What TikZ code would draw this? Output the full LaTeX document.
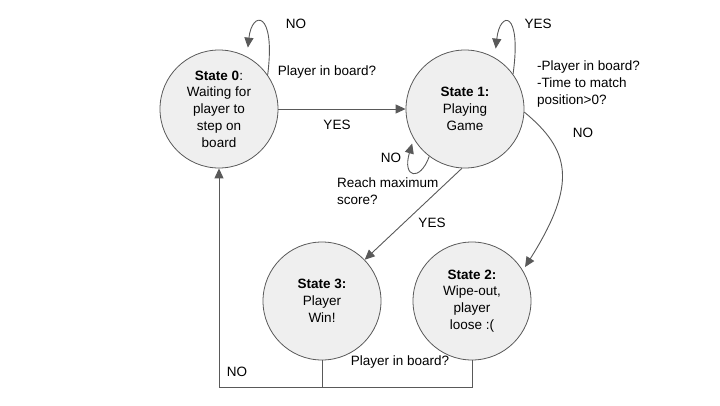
\documentclass[tikz,border=0pt]{standalone}
\usepackage{fontspec}
\setmainfont{Liberation Sans}
\usetikzlibrary{arrows.meta,calc}
\definecolor{linegray}{HTML}{595959}
\definecolor{fillgray}{HTML}{EFEFEF}
\begin{document}
\begin{tikzpicture}[x=1pt,y=-1pt,
  state/.style={circle,draw=linegray,fill=fillgray,line width=0.8pt,minimum size=118pt,inner sep=0pt,align=center,font=\fontsize{13.5}{16.8}\selectfont},
  conn/.style={draw=linegray,line width=0.9pt},
  arr/.style={conn,-{Triangle[length=10pt,width=9pt]}},
  lbl/.style={font=\fontsize{13.5}{16.8}\selectfont,inner sep=0pt,text=black}]
\useasboundingbox (0,0) rectangle (720,405);
\node[state] (s0) at (219,109) {\textbf{State 0}:\\Waiting for\\player to\\step on\\board};
\node[state] (s1) at (465,109) {\textbf{State 1:}\\Playing\\Game};
\node[state] (s3) at (322,301) {\textbf{State 3:}\\Player\\Win!};
\node[state] (s2) at (472,301) {\textbf{State 2:}\\Wipe-out,\\player\\loose :(};
\coordinate (bot) at (0,387);
% connectors
\draw[arr] (s0.east) -- (s1.west);
\draw[arr,shorten >=9pt] (s0.35) .. controls (276,10) and (252,10) .. (s0.62);
\draw[arr,shorten >=9pt] (s1.36) .. controls (522,10) and (500,10) .. (s1.60);
\draw[arr,shorten >=5pt] (s1.-127) .. controls (420,182) and (402,178) .. (s1.-150);
\draw[arr,shorten >=4pt] (s1.-3) .. controls (570,150) and (578,183) .. (s2.31);
\draw[arr] (s1.-93) -- (s3.44);
\draw[conn] (s3.south) -- (s3.south |- bot);
\draw[arr] (s2.south) |- (s0.south |- bot) -- (s0.south);
% labels
\node[lbl] (l1) at (296,24) {NO};
\node[lbl] (l2) at (327,72) {Player in board?};
\node[lbl] (l3) at (337,125) {YES};
\node[lbl] (l4) at (538,24) {YES};
\node[lbl,align=left,anchor=west] (l5) at (537,84) {-Player in board?\\-Time to match\\position>0?};
\node[lbl] (l6) at (583,133) {NO};
\node[lbl] (l7) at (391,158) {NO};
\node[lbl,align=left,anchor=west] (l8) at (337,191.5) {Reach maximum\\score?};
\node[lbl] (l9) at (432,223) {YES};
\node[lbl] (l10) at (237,372) {NO};
\node[lbl] (l11) at (400,362) {Player in board?};
\end{tikzpicture}
\end{document}
